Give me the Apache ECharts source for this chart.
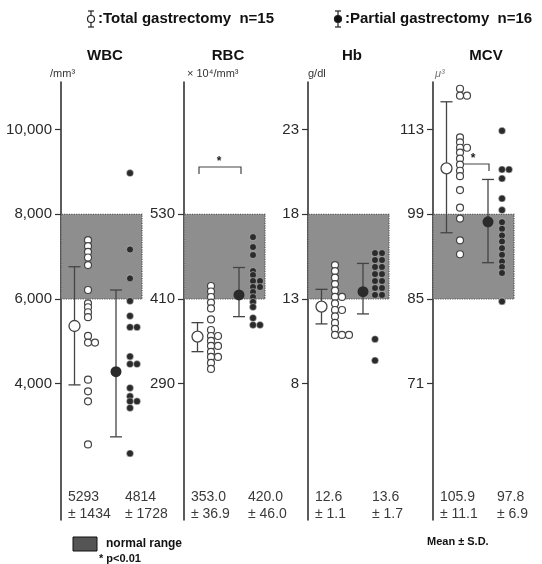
<!DOCTYPE html>
<html>
<head>
<meta charset="utf-8">
<script src="https://cdn.jsdelivr.net/npm/echarts@6/dist/echarts.min.js"></script>
<style>
html, body { margin: 0; padding: 0; background: #fff; }
#chart { width: 542px; height: 564px; }
</style>
</head>
<body>
<div id="chart"></div>
<script>
// 4 panels, same vertical pixel scale, ticks 1 step apart
const panels = ['WBC', 'RBC', 'Hb', 'MCV']
const units = ['/mm³', '× 10⁴/mm³', 'g/dl', 'μ³']
const ticks = [[4000, 6000, 8000, 10000], [290, 410, 530], [8, 13, 18, 23], [71, 85, 99, 113]]
const normalRange = [[6000, 8000], [410, 530], [13, 18], [85, 99]]

// individual patients (repeated value = dots side by side)
const totalDots = [
    [7388, 7247, 7113, 6980, 6800, 6212, 5899, 5805, 5687, 5570, 5129, 4972, 4972, 4094, 3819, 3584, 2565],
    [428.4, 420.6, 412.8, 405.0, 396.6, 381.0, 366.1, 357.6, 357.6, 350.6, 343.5, 343.5, 335.0, 327.9, 327.9, 319.4, 310.9],
    [15.0, 14.65, 14.26, 13.88, 13.5, 13.12, 13.12, 12.74, 12.35, 12.35, 11.97, 11.59, 11.24, 10.88, 10.88, 10.88],
    [119.75, 118.6, 118.6, 111.7, 110.9, 110.0, 110.0, 109.2, 108.2, 107.2, 106.2, 105.3, 103.0, 100.1, 98.3, 94.7, 92.4]
]
const partialDots = [
    [8973, 7169, 6487, 5953, 5600, 5334, 5334, 4643, 4463, 4463, 3899, 3701, 3584, 3584, 3428, 2353],
    [497.7, 483.6, 472.3, 449.6, 444.0, 435.5, 435.5, 427.0, 427.0, 419.9, 412.8, 405.8, 398.7, 383.1, 373.2, 373.2],
    [15.71, 15.71, 15.30, 15.30, 14.89, 14.89, 14.47, 14.47, 14.06, 14.06, 13.65, 13.65, 13.24, 13.24, 10.63, 9.37],
    [112.8, 106.4, 106.4, 104.9, 101.6, 99.7, 97.7, 96.6, 95.5, 94.5, 93.4, 92.3, 91.2, 90.3, 89.3, 84.6]
]

// mean, mean-SD, mean+SD as drawn
const totalBar = [[5363, 3972, 6762], [356.7, 335.4, 376.5], [12.55, 11.53, 13.57], [106.6, 95.95, 117.6]]
const partialBar = [[4285, 2745, 6212], [415.7, 385.0, 454.6], [13.43, 12.12, 15.1], [97.76, 91.0, 104.76]]

// printed under each panel
const totalMean = ['5293', '353.0', '12.6', '105.9']
const totalSD = ['1434', '36.9', '1.1', '11.1']
const partialMean = ['4814', '420.0', '13.6', '97.8']
const partialSD = ['1728', '46.0', '1.7', '6.9']

const chart = echarts.init(document.getElementById('chart'))

const gridLeft = [61, 184, 308, 433]
const titleX = [105, 228, 352, 486]
const unitX = [50, 187, 308, 435]
const TOP = 82
const BOTTOM = 520
const REF_Y = 299
const STEP_PX = 84.7
const ink = '#2b2b2b'

// x offsets (px from axis)
const colOpenMean = 13.5
const colOpenDots = 27
const colFilledMean = 55
const colFilledDots = [69, 69, 67, 69]
const shadeW = 81

function spread (values, baseX) {
    let k = 0
    return values.map((v, i) => {
        k = (i > 0 && v === values[i - 1]) ? k + 1 : 0
        return [baseX + k * 7, v]
    })
}

const grid = []
const xAxis = []
const yAxis = []
const series = []

panels.forEach((name, i) => {
    const lo = normalRange[i][0]
    const step = normalRange[i][1] - lo
    grid.push({ left: gridLeft[i], top: TOP, width: 100, height: BOTTOM - TOP })
    xAxis.push({ gridIndex: i, type: 'value', min: 0, max: 100, show: false })
    yAxis.push({
        gridIndex: i,
        type: 'value',
        min: lo - (BOTTOM - REF_Y) / STEP_PX * step,
        max: lo + (REF_Y - TOP) / STEP_PX * step,
        splitLine: { show: false },
        axisLine: { show: true, lineStyle: { color: '#333', width: 1.6 } },
        axisTick: { show: true, length: 6, customValues: ticks[i], lineStyle: { color: '#333', width: 1.2 } },
        axisLabel: {
            customValues: ticks[i],
            margin: 9,
            fontSize: 15,
            color: '#2a2a2a',
            fontFamily: 'Liberation Sans, Arial, sans-serif',
            formatter: v => i === 0 ? v.toLocaleString('en-US') : String(v)
        }
    })
    // normal range
    series.push({
        type: 'line',
        xAxisIndex: i,
        yAxisIndex: i,
        data: [],
        z: 1,
        markArea: {
            silent: true,
            itemStyle: { color: '#8e8e8e', borderColor: '#555', borderWidth: 1.2, borderType: 'dotted' },
            data: [[{ coord: [0, lo] }, { coord: [shadeW, normalRange[i][1]] }]]
        }
    })
    // mean +- SD bars
    series.push({
        type: 'custom',
        xAxisIndex: i,
        yAxisIndex: i,
        z: 3,
        data: [
            [colOpenMean].concat(totalBar[i]),
            [colFilledMean].concat(partialBar[i])
        ],
        renderItem: (params, api) => {
            const x = api.value(0)
            const top = api.coord([x, api.value(3)])
            const bot = api.coord([x, api.value(2)])
            const cap = 6
            const st = { stroke: '#444', lineWidth: 1.3 }
            return {
                type: 'group',
                children: [
                    { type: 'line', shape: { x1: top[0], y1: top[1], x2: bot[0], y2: bot[1] }, style: st },
                    { type: 'line', shape: { x1: top[0] - cap, y1: top[1], x2: top[0] + cap, y2: top[1] }, style: st },
                    { type: 'line', shape: { x1: bot[0] - cap, y1: bot[1], x2: bot[0] + cap, y2: bot[1] }, style: st }
                ]
            }
        }
    })
    series.push({
        type: 'scatter',
        xAxisIndex: i,
        yAxisIndex: i,
        z: 4,
        symbolSize: 11,
        itemStyle: { color: '#fff', borderColor: '#444', borderWidth: 1.3, opacity: 1 },
        data: [[colOpenMean, totalBar[i][0]]]
    })
    series.push({
        type: 'scatter',
        xAxisIndex: i,
        yAxisIndex: i,
        z: 4,
        symbolSize: 11,
        itemStyle: { color: ink, opacity: 1 },
        data: [[colFilledMean, partialBar[i][0]]]
    })
    series.push({
        type: 'scatter',
        xAxisIndex: i,
        yAxisIndex: i,
        z: 5,
        symbolSize: 7,
        itemStyle: { color: '#fff', borderColor: '#444', borderWidth: 1.2, opacity: 1 },
        data: spread(totalDots[i], colOpenDots)
    })
    series.push({
        type: 'scatter',
        xAxisIndex: i,
        yAxisIndex: i,
        z: 5,
        symbolSize: 7,
        itemStyle: { color: ink, borderColor: '#ddd', borderWidth: 0.5, opacity: 1 },
        data: spread(partialDots[i], colFilledDots[i])
    })
})

const font = 'Liberation Sans, Arial, sans-serif'
const graphic = []

function barSymbol (x, y, filled) {
    const st = { stroke: '#222', lineWidth: 1.2 }
    graphic.push({ type: 'line', shape: { x1: x, y1: y - 8, x2: x, y2: y + 8 }, style: st })
    graphic.push({ type: 'line', shape: { x1: x - 3, y1: y - 8, x2: x + 3, y2: y - 8 }, style: st })
    graphic.push({ type: 'line', shape: { x1: x - 3, y1: y + 8, x2: x + 3, y2: y + 8 }, style: st })
    graphic.push({ type: 'circle', shape: { cx: x, cy: y, r: 3.5 }, style: { fill: filled ? '#111' : '#fff', stroke: '#222', lineWidth: 1.2 } })
}
barSymbol(91, 19, false)
barSymbol(338, 19, true)
graphic.push({ type: 'text', x: 98, y: 19, style: { text: ':Total gastrectomy  n=15', font: 'bold 15px ' + font, fill: '#111', verticalAlign: 'middle' } })
graphic.push({ type: 'text', x: 345, y: 19, style: { text: ':Partial gastrectomy  n=16', font: 'bold 15px ' + font, fill: '#111', verticalAlign: 'middle' } })

panels.forEach((name, i) => {
    graphic.push({ type: 'text', x: titleX[i], y: 56, style: { text: name, font: 'bold 15px ' + font, fill: '#111', align: 'center', verticalAlign: 'middle' } })
    graphic.push({ type: 'text', x: unitX[i], y: 74, style: { text: units[i], font: (i === 3 ? 'italic ' : '') + '11px ' + font, fill: i === 3 ? '#777' : '#333', verticalAlign: 'middle' } })
    const x0 = gridLeft[i] + 7
    const x1 = gridLeft[i] + 64
    const tf = '14px ' + font
    graphic.push({ type: 'text', x: x0, y: 497, style: { text: totalMean[i], font: tf, fill: '#3a3a3a', verticalAlign: 'middle' } })
    graphic.push({ type: 'text', x: x1, y: 497, style: { text: partialMean[i], font: tf, fill: '#3a3a3a', verticalAlign: 'middle' } })
    graphic.push({ type: 'text', x: x0, y: 514, style: { text: '± ' + totalSD[i], font: tf, fill: '#3a3a3a', verticalAlign: 'middle' } })
    graphic.push({ type: 'text', x: x1, y: 514, style: { text: '± ' + partialSD[i], font: tf, fill: '#3a3a3a', verticalAlign: 'middle' } })
})

// p<0.01 brackets
const brSt = { stroke: '#444', lineWidth: 1.2, fill: null }
graphic.push({ type: 'polyline', shape: { points: [[199, 174], [199, 167], [241, 167], [241, 174]] }, style: brSt })
graphic.push({ type: 'text', x: 219, y: 162, style: { text: '*', font: 'bold 12px ' + font, fill: '#222', align: 'center', verticalAlign: 'middle' } })
graphic.push({ type: 'polyline', shape: { points: [[462, 164], [489, 164], [489, 171]] }, style: brSt })
graphic.push({ type: 'text', x: 473, y: 159, style: { text: '*', font: 'bold 12px ' + font, fill: '#222', align: 'center', verticalAlign: 'middle' } })

// bottom notes
graphic.push({ type: 'rect', shape: { x: 73, y: 537, width: 24, height: 14 }, style: { fill: '#555', stroke: '#111', lineWidth: 1 } })
graphic.push({ type: 'text', x: 106, y: 544, style: { text: 'normal range', font: 'bold 12px ' + font, fill: '#111', verticalAlign: 'middle' } })
graphic.push({ type: 'text', x: 99, y: 559, style: { text: '* p<0.01', font: 'bold 11px ' + font, fill: '#111', verticalAlign: 'middle' } })
graphic.push({ type: 'text', x: 427, y: 542, style: { text: 'Mean ± S.D.', font: 'bold 11px ' + font, fill: '#111', verticalAlign: 'middle' } })

chart.setOption({
    animation: false,
    backgroundColor: '#fff',
    grid,
    xAxis,
    yAxis,
    series,
    graphic
})
</script>
</body>
</html>
